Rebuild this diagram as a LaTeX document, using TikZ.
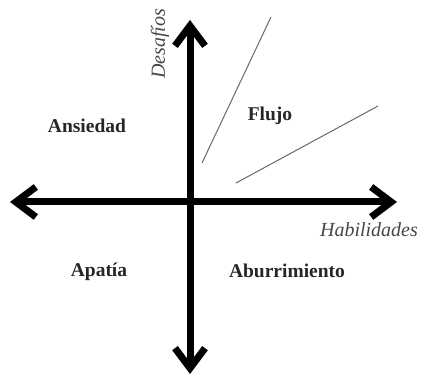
\documentclass[tikz,border=0pt]{standalone}
\usepackage{fontspec}
\setmainfont{Liberation Serif}
\usetikzlibrary{arrows.meta}
\definecolor{boundary}{RGB}{105,105,105}
\definecolor{axistext}{RGB}{70,70,70}
\tikzset{axis/.style={{Straight Barb[length=20pt,width=30pt]}-{Straight Barb[length=20pt,width=30pt]},line width=7pt},
 channel/.style={boundary,line width=1pt},
 zone/.style={font=\fontsize{19.5}{22}\selectfont\bfseries,text=black!85},
 axislabel/.style={font=\fontsize{20}{22}\selectfont\itshape,text=axistext}}

\begin{document}
\begin{tikzpicture}[x=1pt,y=-1pt]
\useasboundingbox (0,0) rectangle (421,377);
\coordinate (O) at (190,202);
\coordinate (W) at (10,202);
\coordinate (E) at (397,202);
\coordinate (N) at (190,20);
\coordinate (S) at (190,374);
\draw[axis] (W)--(E);
\draw[axis] (S)--(N);
% flow channel
\coordinate (upA) at (202,163);
\coordinate (upB) at (271,17);
\coordinate (loA) at (236,183);
\coordinate (loB) at (378,106);
\draw[channel] (upA)--(upB);
\draw[channel] (loA)--(loB);
\node[zone] (ansiedad) at (87,126) {Ansiedad};
\node[zone] (flujo) at (270,116) {Flujo};
\node[zone] (apatia) at (99,272) {Apatía};
\node[zone] (aburrimiento) at (287,271) {Aburrimiento};
\node[axislabel] (habilidades) at (369,230) {Habilidades};
\node[axislabel,rotate=90] (desafios) at (160,44) {Desafíos};
\end{tikzpicture}
\end{document}
